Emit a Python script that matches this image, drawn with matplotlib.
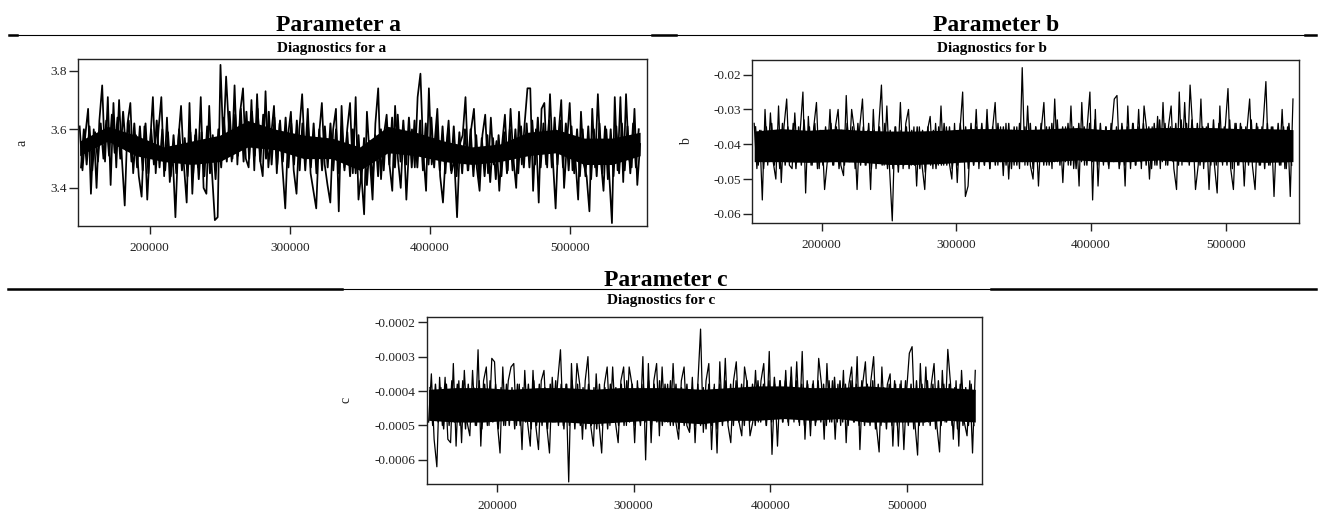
import numpy as np
import matplotlib.pyplot as plt
from matplotlib.lines import Line2D
from matplotlib.ticker import FuncFormatter

plt.rcParams['font.family'] = ['Liberation Serif', 'DejaVu Serif']
plt.rcParams['axes.unicode_minus'] = False

# thinned MCMC draws, first and last iteration kept
ITER_START = 150000
ITER_END = 550000

# draws that stick out of the band (peaks / troughs in order)
a_trace = [
    3.61, 3.46, 3.58, 3.67, 3.38, 3.60, 3.40, 3.63, 3.75, 3.49,
    3.71, 3.41, 3.69, 3.47, 3.70, 3.50, 3.34, 3.62, 3.69, 3.45,
    3.58, 3.44, 3.37, 3.61, 3.36, 3.55, 3.71, 3.45, 3.60, 3.71,
    3.44, 3.64, 3.42, 3.52, 3.30, 3.56, 3.68, 3.48, 3.35, 3.69,
    3.38, 3.58, 3.47, 3.71, 3.40, 3.38, 3.68, 3.45, 3.29, 3.30,
    3.82, 3.55, 3.78, 3.60, 3.49, 3.75, 3.48, 3.66, 3.74, 3.50,
    3.47, 3.70, 3.46, 3.72, 3.50, 3.44, 3.73, 3.47, 3.58, 3.68,
    3.45, 3.62, 3.47, 3.33, 3.58, 3.66, 3.46, 3.38, 3.60, 3.72,
    3.50, 3.67, 3.45, 3.39, 3.33, 3.58, 3.69, 3.48, 3.41, 3.35,
    3.60, 3.67, 3.32, 3.68, 3.47, 3.60, 3.69, 3.45, 3.71, 3.36,
    3.45, 3.31, 3.66, 3.50, 3.36, 3.62, 3.74, 3.43, 3.58, 3.65,
    3.48, 3.39, 3.68, 3.50, 3.40, 3.60, 3.36, 3.55, 3.60, 3.47,
    3.71, 3.79, 3.52, 3.39, 3.74, 3.48, 3.55, 3.67, 3.44, 3.35,
    3.52, 3.63, 3.45, 3.50, 3.30, 3.55, 3.58, 3.71, 3.46, 3.60,
    3.67, 3.47, 3.39, 3.58, 3.65, 3.45, 3.64, 3.48, 3.56, 3.39,
    3.55, 3.65, 3.46, 3.67, 3.50, 3.40, 3.66, 3.48, 3.62, 3.74,
    3.74, 3.39, 3.60, 3.35, 3.67, 3.69, 3.47, 3.72, 3.50, 3.33,
    3.58, 3.70, 3.40, 3.55, 3.69, 3.46, 3.50, 3.36, 3.66, 3.48,
    3.44, 3.32, 3.67, 3.47, 3.72, 3.50, 3.39, 3.60, 3.45, 3.28,
    3.71, 3.46, 3.71, 3.42, 3.72, 3.50, 3.47, 3.67, 3.41, 3.55,
]

# draws inside the dense black band
a_band = [
    3.47, 3.60, 3.48, 3.61, 3.46, 3.59, 3.49, 3.62, 3.50, 3.63,
    3.51, 3.65, 3.52, 3.64, 3.50, 3.66, 3.53, 3.63, 3.49, 3.62,
    3.47, 3.61, 3.46, 3.62, 3.45, 3.60, 3.48, 3.63, 3.47, 3.60,
    3.46, 3.59, 3.44, 3.58, 3.45, 3.60, 3.46, 3.57, 3.44, 3.59,
    3.45, 3.60, 3.43, 3.59, 3.44, 3.61, 3.45, 3.58, 3.43, 3.60,
    3.47, 3.64, 3.49, 3.66, 3.50, 3.65, 3.51, 3.67, 3.49, 3.66,
    3.50, 3.66, 3.51, 3.67, 3.49, 3.65, 3.50, 3.66, 3.48, 3.64,
    3.48, 3.63, 3.49, 3.64, 3.47, 3.62, 3.48, 3.63, 3.46, 3.62,
    3.46, 3.61, 3.47, 3.62, 3.45, 3.60, 3.46, 3.61, 3.47, 3.62,
    3.46, 3.60, 3.45, 3.61, 3.46, 3.59, 3.44, 3.60, 3.45, 3.58,
    3.42, 3.57, 3.41, 3.56, 3.42, 3.58, 3.44, 3.60, 3.46, 3.62,
    3.48, 3.64, 3.47, 3.65, 3.49, 3.63, 3.48, 3.64, 3.47, 3.63,
    3.47, 3.63, 3.46, 3.62, 3.48, 3.64, 3.47, 3.62, 3.46, 3.61,
    3.45, 3.60, 3.46, 3.61, 3.44, 3.59, 3.45, 3.60, 3.46, 3.60,
    3.44, 3.58, 3.43, 3.57, 3.44, 3.58, 3.42, 3.57, 3.43, 3.58,
    3.44, 3.59, 3.45, 3.60, 3.46, 3.60, 3.45, 3.61, 3.47, 3.62,
    3.47, 3.63, 3.48, 3.64, 3.47, 3.62, 3.48, 3.63, 3.47, 3.64,
    3.48, 3.63, 3.47, 3.62, 3.46, 3.61, 3.45, 3.60, 3.44, 3.60,
    3.44, 3.61, 3.43, 3.60, 3.44, 3.62, 3.45, 3.61, 3.43, 3.60,
    3.44, 3.61, 3.45, 3.62, 3.46, 3.61, 3.45, 3.62, 3.47, 3.60,
]

# solid black core of the band, every 20000 iterations
a_core_lo = [3.51, 3.56, 3.51, 3.49, 3.48, 3.49, 3.54, 3.53, 3.50, 3.50, 3.46,
             3.52, 3.51, 3.49, 3.48, 3.49, 3.51, 3.52, 3.48, 3.48, 3.51]
a_core_hi = [3.56, 3.61, 3.58, 3.54, 3.56, 3.58, 3.63, 3.60, 3.58, 3.57, 3.54,
             3.61, 3.59, 3.56, 3.54, 3.55, 3.59, 3.60, 3.57, 3.57, 3.59]

b_trace = [
    -0.034, -0.047, -0.036, -0.056, -0.030, -0.046, -0.031, -0.045, -0.050, -0.029,
    -0.051, -0.035, -0.027, -0.046, -0.047, -0.031, -0.045, -0.036, -0.025, -0.054,
    -0.032, -0.046, -0.035, -0.028, -0.047, -0.036, -0.053, -0.045, -0.030, -0.046,
    -0.035, -0.030, -0.046, -0.049, -0.026, -0.045, -0.030, -0.036, -0.053, -0.035,
    -0.027, -0.046, -0.036, -0.053, -0.030, -0.047, -0.035, -0.023, -0.046, -0.029,
    -0.047, -0.062, -0.035, -0.046, -0.028, -0.047, -0.034, -0.030, -0.046, -0.035,
    -0.052, -0.035, -0.046, -0.053, -0.036, -0.032, -0.047, -0.034, -0.046, -0.029,
    -0.046, -0.035, -0.045, -0.050, -0.034, -0.051, -0.036, -0.025, -0.055, -0.052,
    -0.036, -0.046, -0.030, -0.047, -0.035, -0.046, -0.030, -0.047, -0.036, -0.028,
    -0.046, -0.035, -0.049, -0.034, -0.050, -0.036, -0.046, -0.035, -0.047, -0.018,
    -0.046, -0.029, -0.046, -0.050, -0.035, -0.052, -0.036, -0.028, -0.046, -0.035,
    -0.047, -0.027, -0.045, -0.036, -0.051, -0.035, -0.046, -0.029, -0.047, -0.036,
    -0.052, -0.028, -0.046, -0.035, -0.025, -0.056, -0.030, -0.052, -0.036, -0.046,
    -0.035, -0.047, -0.036, -0.027, -0.026, -0.046, -0.035, -0.052, -0.029, -0.047,
    -0.034, -0.046, -0.030, -0.047, -0.029, -0.036, -0.050, -0.035, -0.046, -0.032,
    -0.047, -0.028, -0.046, -0.035, -0.029, -0.047, -0.053, -0.025, -0.046, -0.028,
    -0.045, -0.023, -0.036, -0.053, -0.046, -0.027, -0.047, -0.035, -0.053, -0.036,
    -0.046, -0.054, -0.029, -0.046, -0.035, -0.024, -0.047, -0.053, -0.034, -0.046,
    -0.035, -0.052, -0.036, -0.027, -0.046, -0.053, -0.035, -0.046, -0.034, -0.022,
    -0.046, -0.035, -0.055, -0.036, -0.046, -0.030, -0.047, -0.035, -0.055, -0.027,
]

b_band = [
    -0.035, -0.046, -0.036, -0.047, -0.035, -0.045, -0.034, -0.046, -0.036, -0.047,
    -0.034, -0.046, -0.035, -0.045, -0.034, -0.047, -0.035, -0.046, -0.033, -0.045,
    -0.035, -0.046, -0.034, -0.047, -0.036, -0.046, -0.035, -0.045, -0.034, -0.046,
    -0.035, -0.047, -0.036, -0.046, -0.034, -0.045, -0.035, -0.047, -0.034, -0.046,
    -0.035, -0.046, -0.034, -0.047, -0.036, -0.045, -0.035, -0.046, -0.034, -0.047,
    -0.036, -0.047, -0.035, -0.048, -0.036, -0.046, -0.035, -0.047, -0.036, -0.046,
    -0.035, -0.047, -0.036, -0.048, -0.035, -0.046, -0.036, -0.047, -0.035, -0.046,
    -0.034, -0.046, -0.035, -0.047, -0.036, -0.046, -0.034, -0.045, -0.035, -0.047,
    -0.034, -0.046, -0.035, -0.045, -0.034, -0.046, -0.033, -0.047, -0.035, -0.046,
    -0.034, -0.045, -0.035, -0.046, -0.034, -0.047, -0.035, -0.046, -0.034, -0.045,
    -0.035, -0.046, -0.034, -0.047, -0.035, -0.045, -0.034, -0.046, -0.035, -0.046,
    -0.034, -0.045, -0.033, -0.046, -0.035, -0.045, -0.034, -0.046, -0.035, -0.047,
    -0.034, -0.045, -0.035, -0.046, -0.034, -0.045, -0.033, -0.046, -0.034, -0.045,
    -0.035, -0.046, -0.034, -0.045, -0.035, -0.047, -0.034, -0.046, -0.035, -0.045,
    -0.034, -0.046, -0.035, -0.045, -0.034, -0.046, -0.035, -0.047, -0.034, -0.046,
    -0.033, -0.045, -0.034, -0.046, -0.035, -0.045, -0.034, -0.046, -0.033, -0.045,
    -0.034, -0.046, -0.033, -0.045, -0.034, -0.046, -0.035, -0.045, -0.034, -0.046,
    -0.033, -0.046, -0.034, -0.045, -0.035, -0.046, -0.033, -0.047, -0.034, -0.046,
    -0.034, -0.045, -0.035, -0.046, -0.033, -0.045, -0.034, -0.046, -0.035, -0.047,
    -0.034, -0.046, -0.035, -0.045, -0.034, -0.046, -0.035, -0.047, -0.034, -0.046,
]

b_core_lo = [-0.0450, -0.0450, -0.0452, -0.0450, -0.0452, -0.0458, -0.0458, -0.0455, -0.0450, -0.0450, -0.0450,
             -0.0450, -0.0445, -0.0450, -0.0450, -0.0445, -0.0450, -0.0450, -0.0450, -0.0452, -0.0450]
b_core_hi = [-0.0362, -0.0355, -0.0360, -0.0355, -0.0360, -0.0362, -0.0362, -0.0360, -0.0355, -0.0355, -0.0358,
             -0.0355, -0.0352, -0.0358, -0.0355, -0.0352, -0.0352, -0.0352, -0.0355, -0.0355, -0.0358]

c_trace = [
    -4.9e-4, -3.5e-4, -5.4e-4, -6.2e-4, -3.6e-4, -5.0e-4, -3.6e-4, -5.4e-4, -5.5e-4, -3.2e-4,
    -5.6e-4, -3.7e-4, -5.5e-4, -3.4e-4, -4.9e-4, -5.3e-4, -3.4e-4, -5.0e-4, -2.8e-4, -5.6e-4,
    -3.7e-4, -3.3e-4, -5.0e-4, -3.05e-4, -3.15e-4, -4.9e-4, -5.8e-4, -3.3e-4, -5.0e-4, -3.7e-4,
    -3.3e-4, -3.2e-4, -5.0e-4, -3.8e-4, -5.7e-4, -3.4e-4, -4.9e-4, -5.6e-4, -3.4e-4, -5.0e-4,
    -5.7e-4, -3.7e-4, -3.4e-4, -5.0e-4, -5.8e-4, -3.6e-4, -4.9e-4, -3.7e-4, -2.8e-4, -5.0e-4,
    -3.8e-4, -6.64e-4, -3.2e-4, -4.9e-4, -3.2e-4, -3.8e-4, -5.4e-4, -3.7e-4, -3.0e-4, -5.0e-4,
    -5.6e-4, -3.5e-4, -4.9e-4, -5.8e-4, -3.8e-4, -3.3e-4, -5.0e-4, -3.3e-4, -4.9e-4, -5.5e-4,
    -3.7e-4, -3.3e-4, -5.0e-4, -3.3e-4, -3.8e-4, -5.5e-4, -3.7e-4, -4.9e-4, -3.0e-4, -6.0e-4,
    -3.2e-4, -5.5e-4, -3.7e-4, -3.2e-4, -5.3e-4, -3.3e-4, -4.9e-4, -3.8e-4, -5.0e-4, -3.2e-4,
    -4.9e-4, -5.4e-4, -3.7e-4, -3.3e-4, -5.0e-4, -5.2e-4, -3.6e-4, -5.5e-4, -3.8e-4, -2.2e-4,
    -5.2e-4, -3.7e-4, -3.2e-4, -5.7e-4, -3.8e-4, -5.8e-4, -3.15e-4, -4.9e-4, -3.05e-4, -5.0e-4,
    -5.5e-4, -3.7e-4, -3.15e-4, -4.9e-4, -5.3e-4, -3.3e-4, -3.8e-4, -5.3e-4, -4.9e-4, -3.4e-4,
    -4.9e-4, -3.7e-4, -3.2e-4, -5.0e-4, -2.85e-4, -5.84e-4, -3.8e-4, -5.6e-4, -3.7e-4, -4.9e-4,
    -3.4e-4, -5.0e-4, -3.3e-4, -4.9e-4, -3.15e-4, -5.0e-4, -2.85e-4, -5.4e-4, -3.8e-4, -5.3e-4,
    -3.7e-4, -4.9e-4, -3.05e-4, -3.8e-4, -5.4e-4, -3.2e-4, -4.9e-4, -3.7e-4, -5.4e-4, -3.8e-4,
    -5.0e-4, -3.4e-4, -5.5e-4, -3.8e-4, -3.3e-4, -4.9e-4, -3.0e-4, -5.7e-4, -3.8e-4, -3.15e-4,
    -4.9e-4, -3.7e-4, -3.0e-4, -5.0e-4, -5.77e-4, -3.3e-4, -4.9e-4, -3.8e-4, -3.5e-4, -5.6e-4,
    -3.8e-4, -5.6e-4, -3.7e-4, -5.7e-4, -4.0e-4, -2.9e-4, -2.71e-4, -4.9e-4, -5.86e-4, -3.2e-4,
    -5.0e-4, -3.3e-4, -4.9e-4, -3.8e-4, -3.2e-4, -5.0e-4, -5.77e-4, -3.4e-4, -4.9e-4, -2.79e-4,
    -3.8e-4, -5.4e-4, -3.7e-4, -5.6e-4, -3.4e-4, -4.9e-4, -5.3e-4, -3.7e-4, -5.8e-4, -3.4e-4,
]

c_band = [
    -3.9e-4, -5.0e-4, -3.8e-4, -4.9e-4, -3.9e-4, -5.1e-4, -3.8e-4, -5.0e-4, -3.7e-4, -4.9e-4,
    -3.8e-4, -5.0e-4, -3.7e-4, -5.1e-4, -3.8e-4, -4.9e-4, -3.9e-4, -5.0e-4, -3.7e-4, -5.1e-4,
    -3.8e-4, -5.0e-4, -3.7e-4, -4.9e-4, -3.8e-4, -5.1e-4, -3.9e-4, -5.0e-4, -3.8e-4, -5.0e-4,
    -3.9e-4, -5.1e-4, -3.8e-4, -5.0e-4, -3.9e-4, -4.9e-4, -3.8e-4, -5.1e-4, -3.7e-4, -5.0e-4,
    -3.8e-4, -5.0e-4, -3.9e-4, -5.1e-4, -3.8e-4, -4.9e-4, -3.7e-4, -5.0e-4, -3.8e-4, -5.1e-4,
    -3.8e-4, -5.0e-4, -3.7e-4, -5.1e-4, -3.8e-4, -5.0e-4, -3.9e-4, -5.1e-4, -3.8e-4, -5.0e-4,
    -3.9e-4, -5.1e-4, -3.8e-4, -5.0e-4, -3.9e-4, -5.1e-4, -3.8e-4, -4.9e-4, -3.9e-4, -5.0e-4,
    -3.8e-4, -5.0e-4, -3.7e-4, -4.9e-4, -3.8e-4, -5.0e-4, -3.9e-4, -5.0e-4, -3.8e-4, -4.9e-4,
    -3.7e-4, -5.0e-4, -3.8e-4, -4.9e-4, -3.7e-4, -5.0e-4, -3.8e-4, -4.9e-4, -3.7e-4, -5.0e-4,
    -3.8e-4, -5.1e-4, -3.9e-4, -5.0e-4, -3.8e-4, -5.1e-4, -3.9e-4, -5.0e-4, -3.8e-4, -5.0e-4,
    -3.9e-4, -5.1e-4, -3.8e-4, -5.0e-4, -3.9e-4, -5.1e-4, -3.8e-4, -5.0e-4, -3.7e-4, -4.9e-4,
    -3.8e-4, -5.0e-4, -3.7e-4, -4.9e-4, -3.8e-4, -5.0e-4, -3.7e-4, -4.9e-4, -3.8e-4, -5.0e-4,
    -3.7e-4, -4.9e-4, -3.8e-4, -5.0e-4, -3.7e-4, -4.9e-4, -3.6e-4, -4.8e-4, -3.7e-4, -4.9e-4,
    -3.7e-4, -4.9e-4, -3.6e-4, -4.8e-4, -3.7e-4, -4.9e-4, -3.8e-4, -5.0e-4, -3.7e-4, -4.9e-4,
    -3.8e-4, -5.0e-4, -3.7e-4, -4.9e-4, -3.8e-4, -5.0e-4, -3.7e-4, -4.9e-4, -3.6e-4, -4.9e-4,
    -3.7e-4, -4.9e-4, -3.8e-4, -5.0e-4, -3.7e-4, -4.9e-4, -3.8e-4, -5.0e-4, -3.7e-4, -5.0e-4,
    -3.8e-4, -5.0e-4, -3.7e-4, -5.1e-4, -3.8e-4, -5.0e-4, -3.9e-4, -5.1e-4, -3.8e-4, -5.0e-4,
    -3.7e-4, -5.0e-4, -3.8e-4, -4.9e-4, -3.7e-4, -5.0e-4, -3.8e-4, -5.1e-4, -3.7e-4, -5.0e-4,
    -3.8e-4, -4.9e-4, -3.7e-4, -5.0e-4, -3.8e-4, -5.1e-4, -3.7e-4, -5.0e-4, -3.8e-4, -4.9e-4,
    -3.8e-4, -5.0e-4, -3.9e-4, -5.1e-4, -3.8e-4, -5.0e-4, -3.9e-4, -5.0e-4, -3.8e-4, -5.0e-4,
]

c_core_lo = [-4.85e-4, -4.9e-4, -4.9e-4, -4.85e-4, -4.9e-4, -4.9e-4, -4.95e-4, -4.9e-4, -4.85e-4, -4.9e-4, -4.95e-4,
             -4.85e-4, -4.85e-4, -4.8e-4, -4.85e-4, -4.8e-4, -4.9e-4, -4.9e-4, -4.9e-4, -4.85e-4, -4.9e-4]
c_core_hi = [-3.95e-4, -3.9e-4, -3.9e-4, -3.95e-4, -3.9e-4, -3.9e-4, -3.95e-4, -3.9e-4, -3.9e-4, -3.9e-4, -3.95e-4,
             -3.9e-4, -3.85e-4, -3.85e-4, -3.9e-4, -3.9e-4, -3.85e-4, -3.9e-4, -3.9e-4, -3.9e-4, -3.95e-4]

x_ticks = [200000, 300000, 400000, 500000]
a_ticks = [3.4, 3.6, 3.8]
b_ticks = [-0.06, -0.05, -0.04, -0.03, -0.02]
c_ticks = [-0.0006, -0.0005, -0.0004, -0.0003, -0.0002]

W, H = 1325, 514
fig = plt.figure(figsize=(W / 100, H / 100), dpi=100)


def px_box(left, top, right, bottom):
    return [left / W, 1 - bottom / H, (right - left) / W, (bottom - top) / H]


def trace_panel(box, values, band, core_lo, core_hi, name, yticks, ylim, label_x, lw=0.9):
    ax = fig.add_axes(box)
    core_x = np.linspace(ITER_START, ITER_END, len(core_lo))
    ax.fill_between(core_x, core_lo, core_hi, color='black', lw=0)
    band_iters = np.linspace(ITER_START + 1000, ITER_END - 1000, len(band))
    ax.plot(band_iters, band, color='black', lw=lw + 0.1)
    iters = np.linspace(ITER_START, ITER_END, len(values))
    ax.plot(iters, values, color='black', lw=lw)
    ax.set_xlim(148600, 554700)
    ax.set_ylim(*ylim)
    ax.set_xticks(x_ticks)
    ax.set_yticks(yticks)
    fmt = FuncFormatter(lambda v, pos: f"{v:g}")
    ax.xaxis.set_major_formatter(fmt)
    ax.yaxis.set_major_formatter(fmt)
    ax.tick_params(axis='x', length=5.5, pad=6, width=1, colors='#222222', labelsize=9.5)
    ax.tick_params(axis='y', length=6.5, pad=1.5, width=1, colors='#222222', labelsize=9.5)
    for s in ax.spines.values():
        s.set_linewidth(1.0)
        s.set_color('#222222')
    ax.set_ylabel(name, fontsize=10, color='#222222')
    ax.yaxis.set_label_coords(label_x, 0.5)
    return ax


trace_panel(px_box(77.7, 59.3, 646.7, 226), a_trace, a_band, a_core_lo, a_core_hi,
            'a', a_ticks, (3.270, 3.839), -0.0856, lw=1.25)
trace_panel(px_box(752.3, 60, 1299.3, 223.3), b_trace, b_band, b_core_lo, b_core_hi,
            'b', b_ticks, (-0.0627, -0.0158), -0.1084)
trace_panel(px_box(426.7, 316.7, 981.7, 484), c_trace, c_band, c_core_lo, c_core_hi,
            'c', c_ticks, (-0.00067, -0.000184), -0.1333)

# table headers
for x, y, txt in [(338, 31, 'Parameter a'), (996, 31, 'Parameter b'), (666, 286, 'Parameter c')]:
    fig.text(x / W, 1 - y / H, txt, ha='center', va='baseline', fontsize=17, fontweight='bold')
for x, y, txt in [(332, 52, 'Diagnostics for a'), (992, 52, 'Diagnostics for b'), (661, 304, 'Diagnostics for c')]:
    fig.text(x / W, 1 - y / H, txt, ha='center', va='baseline', fontsize=11, fontweight='bold')


def rule(x0, x1, y, lw):
    fig.add_artist(Line2D([x0 / W, x1 / W], [1 - y / H, 1 - y / H], color='black', lw=lw))


rule(9, 1316, 35, 0.8)
rule(9, 17, 35, 1.8)
rule(652, 676, 35, 1.8)
rule(1305, 1316, 35, 1.8)
rule(8, 1316, 288.5, 0.8)
rule(8, 342, 288.5, 1.8)
rule(991, 1316, 288.5, 1.8)

fig.savefig('out.png', dpi=100)
